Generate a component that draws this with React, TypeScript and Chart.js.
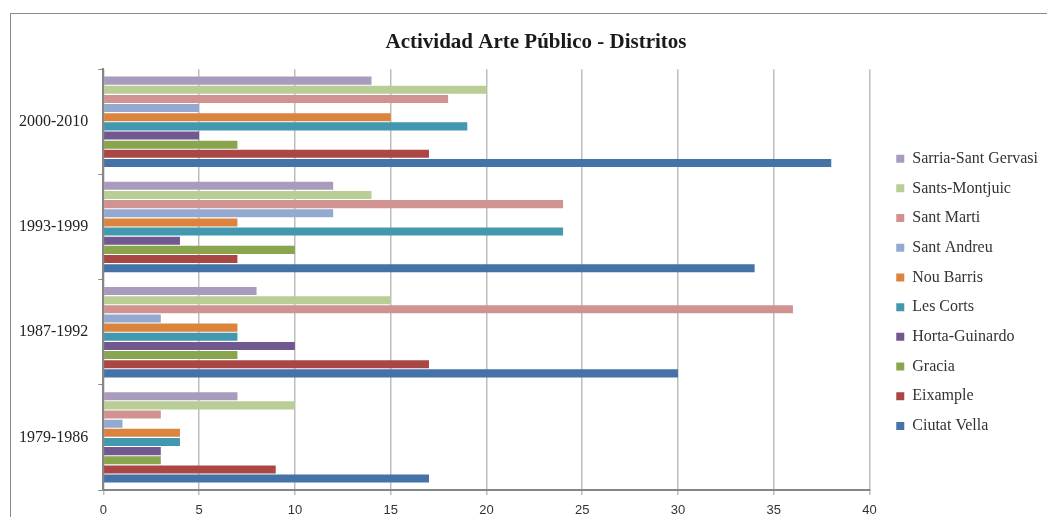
import React, { useEffect, useRef } from 'react';
import { Chart, registerables } from 'chart.js';

Chart.register(...registerables);

const periods = ['2000-2010', '1993-1999', '1987-1992', '1979-1986'];

const sarriaSantGervasi = [14, 12, 8, 7];
const santsMontjuic = [20, 14, 15, 10];
const santMarti = [18, 24, 36, 3];
const santAndreu = [5, 12, 3, 1];
const nouBarris = [15, 7, 7, 4];
const lesCorts = [19, 24, 7, 4];
const hortaGuinardo = [5, 4, 10, 3];
const gracia = [7, 10, 7, 3];
const eixample = [17, 7, 17, 9];
const ciutatVella = [38, 34, 30, 17];

const xTicks = [0, 5, 10, 15, 20, 25, 30, 35, 40];

const series = [
  { label: 'Sarria-Sant Gervasi', data: sarriaSantGervasi, color: '#A99BBD' },
  { label: 'Sants-Montjuic', data: santsMontjuic, color: '#B9CD96' },
  { label: 'Sant Marti', data: santMarti, color: '#D19392' },
  { label: 'Sant Andreu', data: santAndreu, color: '#93A9CF' },
  { label: 'Nou Barris', data: nouBarris, color: '#DB843D' },
  { label: 'Les Corts', data: lesCorts, color: '#4198AF' },
  { label: 'Horta-Guinardo', data: hortaGuinardo, color: '#71588F' },
  { label: 'Gracia', data: gracia, color: '#89A54E' },
  { label: 'Eixample', data: eixample, color: '#AA4643' },
  { label: 'Ciutat Vella', data: ciutatVella, color: '#4572A7' },
];

const boxShift = {
  id: 'boxShift',
  afterLayout(chart: any) {
    if (chart.legend) {
      chart.legend.left += 13;
      chart.legend.right += 13;
      chart.legend.top += 14;
      chart.legend.bottom += 14;
    }
    if (chart.titleBlock) {
      chart.titleBlock.left += 14;
      chart.titleBlock.right += 14;
    }
  },
};

export default function App() {
  const ref = useRef<HTMLCanvasElement | null>(null);

  useEffect(() => {
    if (!ref.current) return;
    const chart = new Chart(ref.current, {
      type: 'bar',
      data: {
        labels: periods,
        datasets: series.map((s) => ({
          label: s.label,
          data: s.data,
          backgroundColor: s.color,
          borderWidth: 0,
          categoryPercentage: 0.87,
          barPercentage: 0.88,
        })),
      },
      plugins: [boxShift],
      options: {
        indexAxis: 'y',
        animation: false,
        responsive: false,
        maintainAspectRatio: false,
        layout: { padding: { top: 30, left: 9, right: 12, bottom: 3.4 } },
        plugins: {
          title: {
            display: true,
            text: 'Actividad Arte Público - Distritos',
            color: '#1a1a1a',
            font: { family: 'Liberation Serif', size: 21, weight: 'bold', lineHeight: 1.2 },
            padding: { top: 0, bottom: 14 },
          },
          legend: {
            position: 'right',
            align: 'center',
            labels: {
              boxWidth: 8,
              boxHeight: 8,
              padding: 13.7,
              color: '#333333',
              font: { family: 'Liberation Serif', size: 16 },
            },
          },
          tooltip: { enabled: false },
        },
        scales: {
          x: {
            min: 0,
            max: 40,
            afterBuildTicks: (scale: any) => {
              scale.ticks = xTicks.map((v) => ({ value: v }));
            },
            grid: {
              color: '#bdbdbd',
              lineWidth: 1.5,
              tickLength: 5,
              drawTicks: true,
            },
            border: { color: '#868686', width: 2 },
            ticks: {
              color: '#333333',
              padding: 8,
              font: { family: 'Liberation Sans', size: 13 },
            },
          },
          y: {
            grid: {
              drawOnChartArea: false,
              drawTicks: true,
              tickLength: 5,
              color: '#868686',
              offset: true,
            },
            border: { color: '#868686', width: 2 },
            ticks: {
              color: '#222222',
              padding: 10,
              font: { family: 'Liberation Serif', size: 16 },
            },
          },
        },
      },
    } as any);
    return () => chart.destroy();
  }, []);

  return (
    <div
      style={{
        position: 'fixed',
        left: 0,
        top: 0,
        width: 1047,
        height: 517,
        background: '#fff',
        overflow: 'hidden',
      }}
    >
      <div
        style={{
          position: 'absolute',
          left: 10,
          top: 13,
          right: -5,
          bottom: -5,
          borderTop: '1px solid #8a8a8a',
          borderLeft: '1px solid #8a8a8a',
        }}
      />
      <canvas ref={ref} width={1047} height={530} style={{ position: 'absolute', left: 0, top: 0 }} />
    </div>
  );
}
